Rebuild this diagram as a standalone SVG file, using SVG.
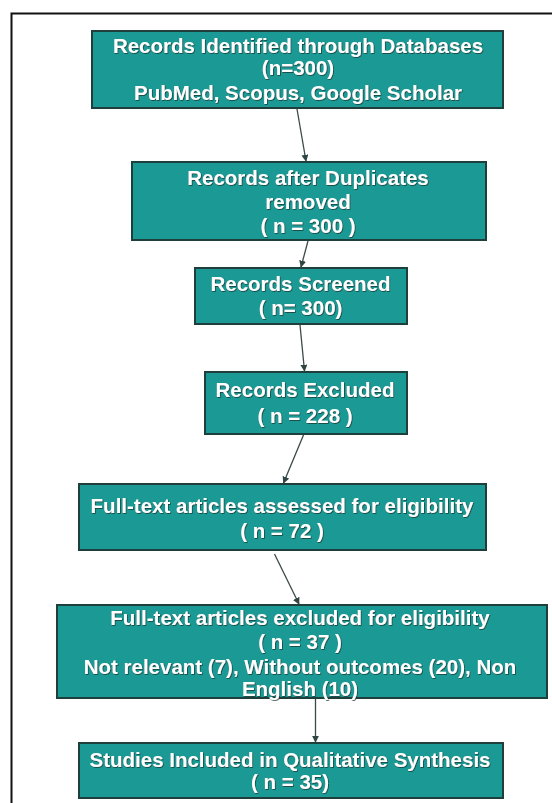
<svg xmlns="http://www.w3.org/2000/svg" width="552" height="803" viewBox="0 0 552 803">
<defs>
<marker id="ah" viewBox="0 0 10 10" refX="9" refY="5" markerWidth="7" markerHeight="7" markerUnits="userSpaceOnUse" orient="auto">
<path d="M0,0 L10,5 L0,10 z" fill="#2f4543"/>
</marker>
<filter id="sh" x="-5%" y="-20%" width="110%" height="140%">
<feDropShadow dx="0.7" dy="0.8" stdDeviation="0.5" flood-color="#12302e" flood-opacity="0.9"/>
</filter>
</defs>
<style>
.box{fill:#1b9994;stroke:#1f3f3d;stroke-width:2}
.t{font-family:"Liberation Sans",Arial,sans-serif;font-weight:bold;font-size:20.5px;fill:#ffffff;text-anchor:middle;filter:url(#sh)}
.c{stroke:#3a4a49;stroke-width:1.3;fill:none;marker-end:url(#ah)}
</style>
<rect width="552" height="803" fill="#ffffff"/>
<path d="M11.5,803 L11.5,13.5 L552,13.5" fill="none" stroke="#111111" stroke-width="2"/>
<g id="connectors">
<line class="c" x1="297" y1="109" x2="306" y2="161"/>
<line class="c" x1="308" y1="241" x2="301" y2="267"/>
<line class="c" x1="300" y1="325" x2="304.5" y2="371"/>
<line class="c" x1="303.5" y1="435" x2="283.5" y2="483"/>
<line class="c" x1="274.5" y1="554" x2="299" y2="604"/>
<line class="c" x1="315.5" y1="699" x2="315.5" y2="742"/>
</g>
<g id="n1">
<rect class="box" x="92" y="31" width="411" height="77"/>
<text class="t" x="298" y="53">Records Identified through Databases</text>
<text class="t" x="298" y="75">(n=300)</text>
<text class="t" x="298" y="100">PubMed, Scopus, Google Scholar</text>
</g>
<g id="n2">
<rect class="box" x="132" y="162" width="354" height="78"/>
<text class="t" x="308" y="185">Records after Duplicates</text>
<text class="t" x="308" y="209">removed</text>
<text class="t" x="308" y="233">( n = 300 )</text>
</g>
<g id="n3">
<rect class="box" x="195" y="268" width="212" height="56"/>
<text class="t" x="300.5" y="291">Records Screened</text>
<text class="t" x="300.5" y="315">( n= 300)</text>
</g>
<g id="n4">
<rect class="box" x="205" y="372" width="202" height="62"/>
<text class="t" x="305" y="397">Records Excluded</text>
<text class="t" x="305" y="423">( n = 228 )</text>
</g>
<g id="n5">
<rect class="box" x="79" y="484" width="407" height="66"/>
<text class="t" x="282" y="513">Full-text articles assessed for eligibility</text>
<text class="t" x="282" y="538">( n = 72 )</text>
</g>
<g id="n6">
<rect class="box" x="57" y="605" width="490" height="93"/>
<text class="t" x="300" y="625">Full-text articles excluded for eligibility</text>
<text class="t" x="300" y="649">( n = 37 )</text>
<text class="t" x="300" y="674">Not relevant (7), Without outcomes (20), Non</text>
<text class="t" x="300" y="696">English (10)</text>
</g>
<g id="n7">
<rect class="box" x="79" y="743" width="424" height="55"/>
<text class="t" x="290" y="767">Studies Included in Qualitative Synthesis</text>
<text class="t" x="290" y="789">( n = 35)</text>
</g>
</svg>
